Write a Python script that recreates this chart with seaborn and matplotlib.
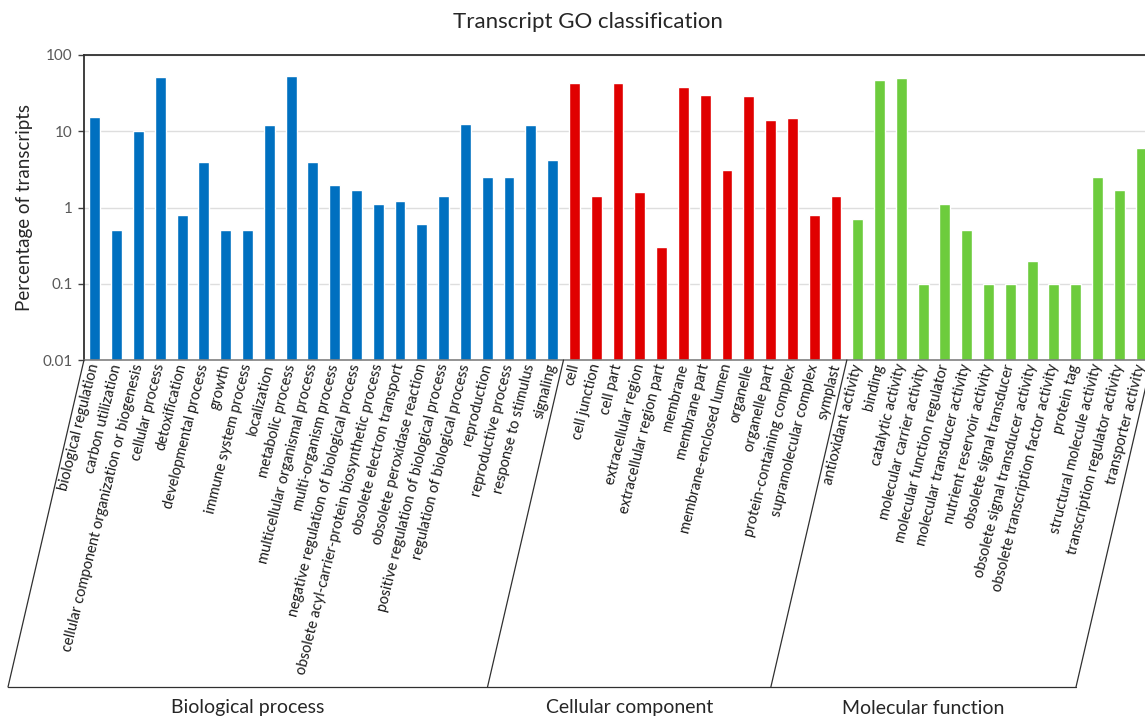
import matplotlib
matplotlib.use("Agg")
import pandas as pd
import matplotlib.pyplot as plt
import seaborn as sns
from matplotlib.lines import Line2D
from matplotlib.ticker import FixedLocator, FixedFormatter, NullLocator

bp_terms = [
    "biological regulation", "carbon utilization",
    "cellular component organization or biogenesis", "cellular process",
    "detoxification", "developmental process", "growth",
    "immune system process", "localization", "metabolic process",
    "multicellular organismal process", "multi-organism process",
    "negative regulation of biological process",
    "obsolete acyl-carrier-protein biosynthetic process",
    "obsolete electron transport", "obsolete peroxidase reaction",
    "positive regulation of biological process",
    "regulation of biological process", "reproduction",
    "reproductive process", "response to stimulus", "signaling",
]
bp_values = [15.2, 0.5, 10.0, 51.0, 0.8, 3.9, 0.5, 0.5, 12.2, 52.5, 3.9,
             2.0, 1.7, 1.1, 1.2, 0.6, 1.4, 12.6, 2.5, 2.5, 12.2, 4.2]

cc_terms = [
    "cell", "cell junction", "cell part", "extracellular region",
    "extracellular region part", "membrane", "membrane part",
    "membrane-enclosed lumen", "organelle", "organelle part",
    "protein-containing complex", "supramolecular complex", "symplast",
]
cc_values = [42.5, 1.4, 42.5, 1.6, 0.3, 37.7, 29.6, 3.1, 28.7, 14.0, 14.7,
             0.8, 1.4]

mf_terms = [
    "antioxidant activity", "binding", "catalytic activity",
    "molecular carrier activity", "molecular function regulator",
    "molecular transducer activity", "nutrient reservoir activity",
    "obsolete signal transducer", "obsolete signal transducer activity",
    "obsolete transcription factor activity", "protein tag",
    "structural molecule activity", "transcription regulator activity",
    "transporter activity",
]
mf_values = [0.7, 47.0, 49.4, 0.1, 1.1, 0.5, 0.1, 0.1, 0.2, 0.1, 0.1, 2.5,
             1.7, 6.0]

groups = ["Biological process", "Cellular component", "Molecular function"]
colors = {"Biological process": "#0070C0",
          "Cellular component": "#E00000",
          "Molecular function": "#6DCC3D"}

df = pd.DataFrame({
    "term": bp_terms + cc_terms + mf_terms,
    "pct": bp_values + cc_values + mf_values,
    "group": [groups[0]] * len(bp_terms) + [groups[1]] * len(cc_terms)
             + [groups[2]] * len(mf_terms),
})
order = list(df["term"])

sns.set_style("white")
plt.rcParams["font.family"] = ["Lato", "DejaVu Sans"]

fig = plt.figure(figsize=(11.45, 7.2), dpi=100)
W, H = 1145, 720
ax = fig.add_axes([84 / W, 1 - 360 / H, (1152 - 84) / W, (360 - 55) / H])

sns.barplot(data=df, x="term", y="pct", hue="group", order=order,
            palette=colors, dodge=False, width=0.5, legend=False,
            saturation=1, ax=ax)

ax.set_yscale("log")
ax.set_ylim(0.01, 100)
ax.set_xlim(-0.5, len(order) - 0.5)
ax.yaxis.set_major_locator(FixedLocator([0.01, 0.1, 1, 10, 100]))
ax.yaxis.set_major_formatter(FixedFormatter(["0.01", "0.1", "1", "10", "100"]))
ax.yaxis.set_minor_locator(NullLocator())
ax.grid(axis="y", color="#DEDEDE", linewidth=1)
ax.set_axisbelow(True)
ax.tick_params(axis="y", which="major", length=4, width=1, color="#404040",
               labelsize=11, labelcolor="#595959", pad=4, left=True)
ax.tick_params(axis="x", length=0, pad=3)
for side in ["left", "top"]:
    ax.spines[side].set_color("#303030")
    ax.spines[side].set_linewidth(1.3)
ax.spines["bottom"].set_color("#808080")
ax.spines["bottom"].set_linewidth(1.2)
ax.spines["right"].set_visible(False)

ax.set_xlabel("")
ax.set_ylabel("Percentage of transcripts", fontsize=13.5, labelpad=7)
ax.set_xticks(range(len(order)))
ax.set_xticklabels(order, rotation=76, ha="right", va="center",
                   rotation_mode="anchor", fontsize=10.5, color="#1a1a1a")

fig.text(588 / W, 1 - 22 / H, "Transcript GO classification",
         ha="center", va="center", fontsize=16)

# slanted group boxes below the category labels
fig.canvas.draw()
bounds = [-0.5, len(bp_terms) - 0.5, len(bp_terms) + len(cc_terms) - 0.5,
          len(order) - 0.5]
y_top = 360
y_bot = 687
shift = 76
bottoms = []
for b in bounds:
    xd, _ = ax.transData.transform((b, 1))
    x_top = xd * W / fig.bbox.width
    x_bot = x_top - shift
    bottoms.append(x_bot)
    fig.add_artist(Line2D([x_top / W, x_bot / W],
                          [1 - y_top / H, 1 - y_bot / H],
                          color="#303030", linewidth=0.9))
fig.add_artist(Line2D([bottoms[0] / W, bottoms[-1] / W],
                      [1 - y_bot / H, 1 - y_bot / H],
                      color="#303030", linewidth=0.9))
for g, x0, x1 in zip(groups, bottoms[:-1], bottoms[1:]):
    fig.text((x0 + x1) / 2 / W, 1 - 708 / H, g, ha="center", va="center",
             fontsize=14)

fig.savefig("out.png", dpi=100)
